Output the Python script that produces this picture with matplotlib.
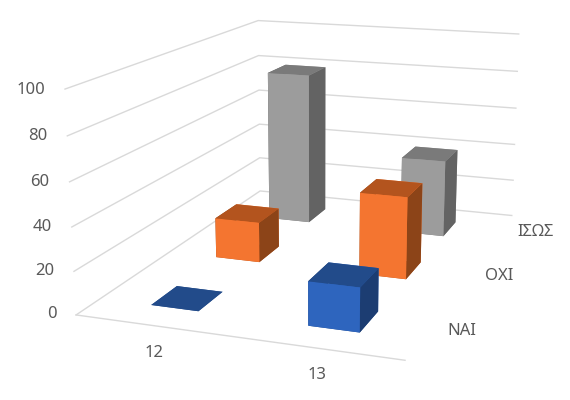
import matplotlib
matplotlib.use("Agg")
import matplotlib.pyplot as plt

categories = ["12", "13"]
series = ["ΝΑΙ", "ΟΧΙ", "ΙΣΩΣ"]
nai = [0, 20]
oxi = [20, 40]
isos = [80, 40]
zticks = [0, 20, 40, 60, 80, 100]

FRONT = ["#2E65BE", "#F47530", "#9C9C9C"]
TOP = ["#224B8A", "#B3541E", "#7A7A7A"]
SIDE = ["#1C3D72", "#8C4418", "#636363"]
GRID = "#D9D9D9"
TEXT = "#595959"
FS = 12

fig = plt.figure(figsize=(5.7, 4), dpi=100)
# axes box in pixels: left 31.2, bottom edge 448.5 from the top, side 560.1
ax = fig.add_axes([31.2 / 570, (400 - 448.5) / 400, 560.1 / 570, 560.1 / 400], projection="3d")
ax.set_xlim(0, 2, view_margin=0)
ax.set_ylim(0, 3, view_margin=0)
ax.set_zlim(0, 100, view_margin=0)
ax.set_axis_off()
ax.view_init(elev=14.3, azim=-70.4)
ax.set_proj_type("persp", focal_length=0.429)
ax.set_box_aspect((1.485, 2.125, 1))

for z in zticks:
    ax.plot([0, 0, 2], [0, 3, 3], [z, z, z], color=GRID, lw=1, zorder=1)
ax.plot([0, 2], [0, 0], [0, 0], color=GRID, lw=1, zorder=1)

ax.computed_zorder = False
values = [nai, oxi, isos]
for r in [2, 1, 0]:
    for c in range(2):
        # faces: bottom, top, front, back, left, right
        cols = [TOP[r], TOP[r], FRONT[r], FRONT[r], SIDE[r], SIDE[r]]
        ax.bar3d(c + 0.34, r + 0.31, 0, 0.31, 0.37, values[r][c], color=cols,
                 shade=False, linewidth=0, zorder=8 - r)

for z in zticks:
    ax.text(-0.13, 0, z - 1, str(z), ha="right", va="center", color=TEXT, fontsize=FS, family="Noto Sans")
# label anchors nudged one by one, Excel does not space them evenly
for name, x, y in zip(categories, [0.69, 1.62], [-0.38, -0.36]):
    ax.text(x, y, 0, name, ha="center", va="center", color=TEXT, fontsize=FS, family="Noto Sans")
for name, x, y in zip(series, [2.11, 2.11, 2.12], [0.5, 1.55, 2.6]):
    ax.text(x, y, 0, name, ha="left", va="center", color=TEXT, fontsize=FS, family="Noto Sans")

fig.savefig("out.png", dpi=100)
